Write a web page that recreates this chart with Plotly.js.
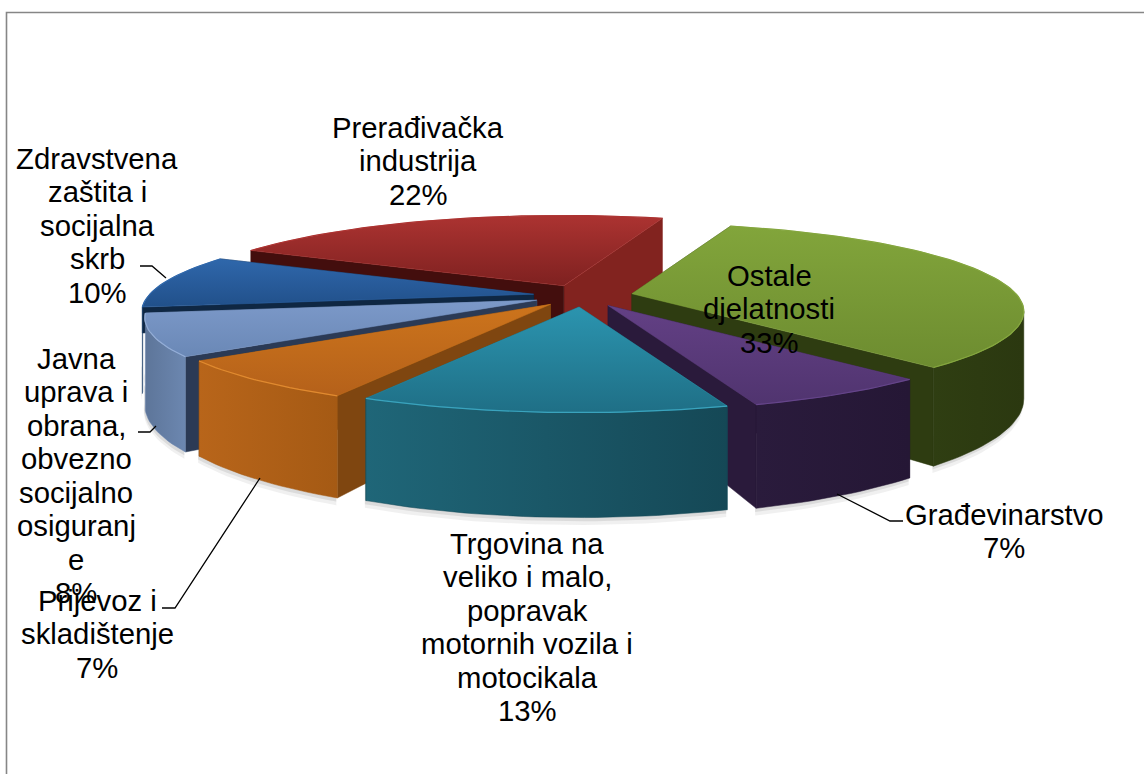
<!DOCTYPE html>
<html><head><meta charset="utf-8">
<script src="https://cdn.plot.ly/plotly-3.0.1.min.js"></script>
<style>html,body{margin:0;padding:0;background:#fff}#c{width:1144px;height:774px}</style>
</head><body><div id="c"></div>
<script>
// ---- data (clockwise from the start angle); shares, labels show them rounded ----
const categories = ["Ostale djelatnosti","Građevinarstvo","Trgovina na veliko i malo, popravak motornih vozila i motocikala","Prijevoz i skladištenje","Javna uprava i obrana, obvezno socijalno osiguranje","Zdravstvena zaštita i socijalna skrb","Prerađivačka industrija"];
const values = [33.4,6.6,12.6,7.4,7.7,9.9,22.4];
const labelLines = [
  ["Ostale","djelatnosti"],
  ["Građevinarstvo"],
  ["Trgovina na","veliko i malo,","popravak","motornih vozila i","motocikala"],
  ["Prijevoz i","skladištenje"],
  ["Javna","uprava i","obrana,","obvezno","socijalno","osiguranj","e"],
  ["Zdravstvena","zaštita i","socijalna","skrb"],
  ["Prerađivačka","industrija"]
];
// ---- styles ----  (vertical gradients: first colour = lower edge)
const topColors  = [["#6d8c30","#82a53b"],["#50346f","#634085"],["#1f6f86","#2b94af"],["#b5611a","#cc741c"],["#6a88b6","#7c99c9"],["#21508a","#2f67ab"],["#7e2120","#ac3331"]];
const wallColors = [["#2f3e12","#2b3810"],["#2a1b3c","#251735"],["#1f6678","#154856"],["#b8651a","#a55a14"],["#5d7599","#6c87b0"],["#1f4573","#1a3c64"],["#7a201e","#7a201e"]];
const startWall = ["#2e3c11","#2a1a3b","#175261","#7f4610","#2b3a55","#0f2743","#430e0d"];
const endWall   = ["#2e3c11","#2a1a3b","#175261","#7f4610","#5d7599","#0f2743","#82231f"];
const startWallDepth = [1,1,1,1,1,0.3,1];
const endWallDepth   = [1,1,1,1,0.1,1,1];
const rimColors  = ["#84a63e","#65458a","#3aa3bd","#e08a30","#93add6","#2f67ab","#ac3331"];
const labelAt = [[769,275],[1004,514],[527,543],[97,600],[76,358],[97,158],[418,127]];
const labelWrapStep = 33.5, fontPx = 29.3;
const drawOrder = [6,5,4,3,0,1,2];
// ---- projection ----
const cx=583, cy=296, R=384, T=0.22, P=0.2, H=84, EX=50, START=17.8;
const rad=d=>d*Math.PI/180;
const total=values.reduce((a,b)=>a+b,0);
let a=START; const spans=values.map(v=>{const r=[a,a+v/total*360];a=r[1];return r;});
function apex(i,z){
  const [a0,a1]=spans[i], m=rad((a0+a1)/2);
  return [cx+EX*Math.sin(m), cy-EX*T*Math.cos(m)+z*H];
}
function rimPoint(i,deg,z){
  const A=apex(i,0), t=rad(deg), s=1/(1+P*Math.cos(t));
  return [A[0]+R*Math.sin(t)*s, A[1]-R*T*Math.cos(t)*s+z*H*s];
}
function arc(i,z,from,to){
  const [a0,a1]=[from===undefined?spans[i][0]:from,to===undefined?spans[i][1]:to];
  const pts=[]; const n=Math.max(1,Math.ceil((a1-a0)/1.5));
  for(let j=0;j<=n;j++) pts.push(rimPoint(i,a0+(a1-a0)*j/n,z));
  return pts;
}
// part of the rim that faces the viewer
function frontRange(i){
  const lim=Math.acos(-P)*180/Math.PI, lo=Math.max(spans[i][0],lim), hi=Math.min(spans[i][1],360-lim+4);
  return hi>lo?[lo,hi]:null;
}
function poly(pts,grad,solid,type){
  const closed=pts.concat([pts[0]]);
  const tr={type:'scatter',mode:'lines',x:closed.map(p=>p[0]),y:closed.map(p=>p[1]),fill:'toself',line:{width:0.5,color:solid||grad[1]},hoverinfo:'skip',showlegend:false};
  if(grad){tr.fillgradient={type:type||'vertical',colorscale:[[0,grad[0]],[1,grad[1]]]};}
  else tr.fillcolor=solid;
  return tr;
}
const traces=[];
// soft shadow beneath the pie
drawOrder.forEach(i=>{
  const fr=frontRange(i); if(!fr) return;
  [[0.07,'rgba(110,110,110,0.10)'],[0.035,'rgba(110,110,110,0.16)']].forEach(([d,c])=>{
    const pts=arc(i,0.7,fr[0],fr[1]).concat(arc(i,1+d,fr[0],fr[1]).reverse());
    const closed=pts.concat([pts[0]]);
    traces.push({type:'scatter',mode:'lines',x:closed.map(p=>p[0]-1),y:closed.map(p=>p[1]),fill:'toself',fillcolor:c,line:{width:0},hoverinfo:'skip',showlegend:false});
  });
});
drawOrder.forEach(i=>{
  const t0=arc(i,0);
  const A0=apex(i,0);
  // radial walls, the one turned away from the viewer first
  const d0=startWallDepth[i], d1=endWallDepth[i];
  const wStart=poly([A0,t0[0],rimPoint(i,spans[i][0],d0),apex(i,d0)],null,startWall[i]);
  const wEnd=poly([A0,t0[t0.length-1],rimPoint(i,spans[i][1],d1),apex(i,d1)],null,endWall[i]);
  const mid=rad((spans[i][0]+spans[i][1])/2);
  if(Math.sin(mid)<0){traces.push(wEnd,wStart);} else {traces.push(wStart,wEnd);}
  // outer wall
  const fr=frontRange(i);
  if(fr) traces.push(poly(arc(i,0,fr[0],fr[1]).concat(arc(i,1,fr[0],fr[1]).reverse()),wallColors[i],null,'horizontal'));
  // top
  traces.push(poly([A0].concat(t0),topColors[i],null,'vertical'));
  // rim highlight
  traces.push({type:'scatter',mode:'lines',x:t0.map(p=>p[0]),y:t0.map(p=>p[1]),line:{width:1.2,color:rimColors[i]},hoverinfo:'skip',showlegend:false});
});
const font={family:'"Liberation Sans",Arial,sans-serif',size:fontPx,color:'#000'};
const annotations=[];
function addLine(text,x,y){annotations.push({xref:'x',yref:'y',x,y,text,showarrow:false,xanchor:'center',yanchor:'middle',font,align:'center'});}
values.forEach((v,i)=>{
  const [x,y0]=labelAt[i];
  const lines=labelLines[i].concat([Math.round(v/total*100)+'%']);
  lines.forEach((t,j)=>addLine(t,x,y0+j*labelWrapStep));
});
const leader=(d)=>({type:'path',path:d,xref:'x',yref:'y',line:{color:'#000',width:1.3},layer:'above'});
const shapes=[
  {type:'path',path:'M6.5,774 L6.5,12.5 L1144,12.5',xref:'x',yref:'y',line:{color:'#868686',width:1.6},layer:'below'},
  leader('M140,266 L152,266 L166,278'),
  leader('M138,432 L150,432 L156,426'),
  leader('M162,608 L175,608 L260,478'),
  leader('M837,494 L890,521 L903,521')
];
Plotly.newPlot('c',traces,{
  width:1144,height:774,margin:{l:0,r:0,t:0,b:0},paper_bgcolor:'#fff',plot_bgcolor:'#fff',showlegend:false,
  xaxis:{range:[0,1144],visible:false,fixedrange:true},
  yaxis:{range:[774,0],visible:false,fixedrange:true},
  annotations,shapes
},{displayModeBar:false,staticPlot:true});
</script></body></html>
